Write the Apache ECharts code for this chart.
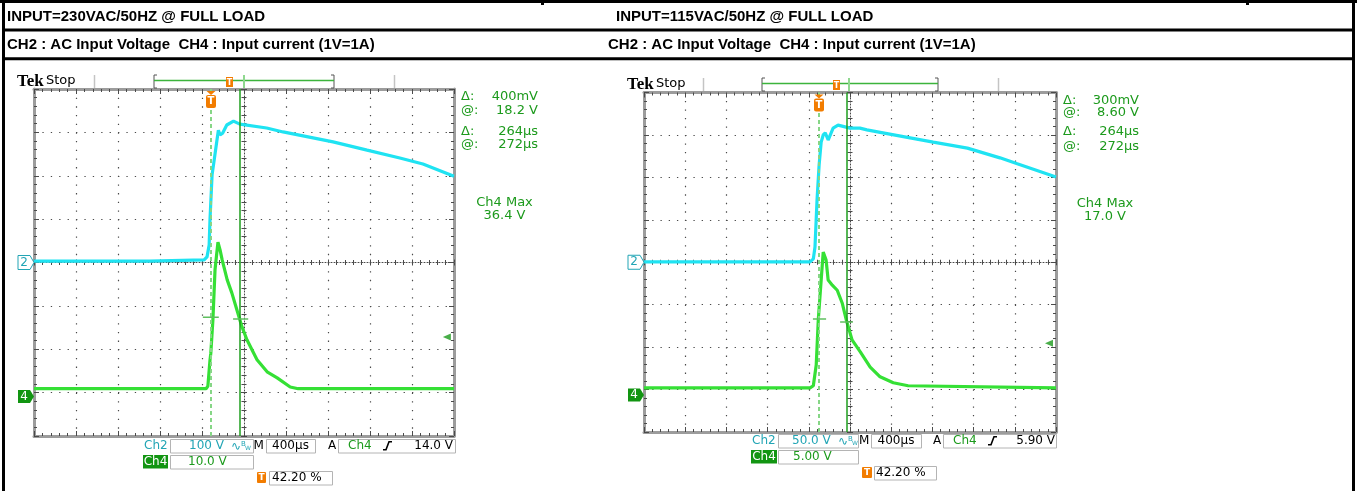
<!DOCTYPE html>
<html><head><meta charset="utf-8">
<script src="https://cdn.jsdelivr.net/npm/echarts@6/dist/echarts.min.js"></script>
<style>html,body{margin:0;padding:0;background:#fff;overflow:hidden}#c{width:1357px;height:491px}</style>
</head><body><div id="c"></div>
<script>
// ---- data (x in divisions from screen centre, y in divisions from centre) ----
const titleRow1 = ['INPUT=230VAC/50HZ @ FULL LOAD', 'INPUT=115VAC/50HZ @ FULL LOAD'];
const titleRow2 = ['CH2 : AC Input Voltage  CH4 : Input current (1V=1A)', 'CH2 : AC Input Voltage  CH4 : Input current (1V=1A)'];

const leftCh2 = [[-5,0.03],[-2.24,0.03],[-0.95,0.06],[-0.88,0.13],[-0.83,0.4],[-0.81,0.98],[-0.76,2.02],[-0.71,2.36],[-0.65,2.78],[-0.61,3.05],[-0.57,2.94],[-0.51,2.98],[-0.41,3.17],[-0.25,3.26],[-0.10,3.19],[0.54,3.1],[0.93,3.01],[2.12,2.78],[2.93,2.59],[3.71,2.41],[4.26,2.27],[5,1.99]];
const leftCh4 = [[-5,-2.91],[-0.9,-2.91],[-0.86,-2.85],[-0.81,-2.25],[-0.79,-2.09],[-0.74,-1.32],[-0.69,-0.17],[-0.64,0.29],[-0.62,0.47],[-0.57,0.29],[-0.52,0.06],[-0.4,-0.4],[-0.29,-0.7],[-0.17,-1.09],[-0.05,-1.48],[0.07,-1.78],[0.31,-2.24],[0.55,-2.52],[0.79,-2.66],[1.1,-2.87],[1.29,-2.91],[5,-2.91]];
const rightCh2 = [[-5,0.01],[-0.97,0.01],[-0.89,0.08],[-0.85,0.36],[-0.8,1.47],[-0.75,2.29],[-0.7,2.83],[-0.65,3.0],[-0.6,3.05],[-0.53,2.88],[-0.41,3.16],[-0.29,3.23],[0.0,3.16],[0.24,3.16],[0.41,3.12],[0.8,3.05],[2.02,2.83],[2.85,2.69],[3.64,2.46],[4.06,2.32],[5,2.01]];
const rightCh4 = [[-5,-2.96],[-0.97,-2.96],[-0.89,-2.91],[-0.82,-2.42],[-0.77,-1.36],[-0.7,-0.42],[-0.65,0.24],[-0.58,0.05],[-0.53,-0.42],[-0.43,-0.54],[-0.31,-0.66],[-0.19,-0.96],[-0.09,-1.36],[0.05,-1.83],[0.25,-2.11],[0.49,-2.47],[0.73,-2.7],[1.05,-2.84],[1.41,-2.91],[5,-2.96]];

const leftCursors = [-0.79, -0.10];      // vertical cursors (dashed, solid)
const rightCursors = [-0.75, -0.09];
const leftHBars = [[-0.98,-0.6,-1.26],[-0.26,0.1,-1.30]];   // [x1,x2,y]
const rightHBars = [[-0.9,-0.58,-1.34],[-0.24,0.07,-1.41]];
const leftTrigger = [-0.78, 4.83, -1.72];   // [trigger x, arrow x, trigger level y]
const rightTrigger = [-0.76, 4.83, -1.91];
const leftGround = [0, -3.09];   // ch2, ch4 marker levels
const rightGround = [0, -3.13];

const leftReadouts = ['400mV','18.2 V','264µs','272µs','36.4 V'];
const rightReadouts = ['300mV','8.60 V','264µs','272µs','17.0 V'];
const leftScale = ['100 V','10.0 V','400µs','14.0 V','42.20 %'];
const rightScale = ['50.0 V','5.00 V','400µs','5.90 V','42.20 %'];

// ---- styling ----
const CYAN = '#1fe3f2', GREEN = '#35e035', GRN = '#1c9a1c', TEAL = '#22a5b5', ORANGE = '#f27c00';
const DOT = '#4a4a4a', BORDER = '#9c9c9c';
const grids = [{left:34, top:89, width:420, height:347}, {left:644, top:92.5, width:412, height:339.5}];

function gridAxes(g) {
  const h = grids[g].height, w = grids[g].width;
  const vDash = [1.3, h/40 - 1.3], hDash = [1.3, w/50 - 1.3];
  const common = {type:'value', gridIndex:g, axisLabel:{show:false}, splitLine:{show:false}, silent:true};
  const xr = {min:-5, max:5, interval:1}, yr = {min:-4, max:4, interval:1};
  const tick = (inside, len) => ({show:true, inside:inside, length:len, lineStyle:{color:DOT, width:1}});
  const minor = (len) => ({show:true, splitNumber:5, length:len, lineStyle:{color:DOT, width:1}});
  const border = {show:true, onZero:false, lineStyle:{color:BORDER, width:3}};
  const x = [
    Object.assign({}, common, xr, {position:'bottom', axisLine:border, axisTick:tick(true,5), minorTick:minor(3), splitLine:{show:true, lineStyle:{color:DOT, width:1.2, type:vDash}}}),
    Object.assign({}, common, xr, {position:'top', axisLine:border, axisTick:tick(true,5), minorTick:minor(3)}),
    Object.assign({}, common, xr, {position:'bottom', axisLine:{show:true, onZero:true, lineStyle:{color:DOT, width:1, type:[1,2]}}, axisTick:tick(true,3), minorTick:minor(2.5)}),
    Object.assign({}, common, xr, {position:'bottom', axisLine:{show:false, onZero:true}, axisTick:tick(false,3), minorTick:minor(2.5)})
  ];
  const y = [
    Object.assign({}, common, yr, {position:'left', axisLine:border, axisTick:tick(true,5), minorTick:minor(3), splitLine:{show:true, lineStyle:{color:DOT, width:1.2, type:hDash}}}),
    Object.assign({}, common, yr, {position:'right', axisLine:border, axisTick:tick(true,5), minorTick:minor(3)}),
    Object.assign({}, common, yr, {position:'left', axisLine:{show:true, onZero:true, lineStyle:{color:DOT, width:1, type:[1,2]}}, axisTick:tick(true,3), minorTick:minor(2.5)}),
    Object.assign({}, common, yr, {position:'left', axisLine:{show:false, onZero:true}, axisTick:tick(false,3), minorTick:minor(2.5)})
  ];
  return {x, y};
}

function scopeSeries(g, ch2, ch4, cur, hbars, trig) {
  const ax = {xAxisIndex:g*4, yAxisIndex:g*4};
  const s = [];
  s.push(Object.assign({type:'line', name:'CH2 '+g, data:ch2, symbol:'none', lineStyle:{color:CYAN, width:3.2}, z:3, silent:true}, ax));
  s.push(Object.assign({type:'line', name:'CH4 '+g, data:ch4, symbol:'none', lineStyle:{color:GREEN, width:3.2}, z:4, silent:true,
    markLine:{silent:true, symbol:'none', label:{show:false}, animation:false,
      data:[{xAxis:cur[0], lineStyle:{color:'#86d686', type:[4,3], width:2}},
            {xAxis:cur[1], lineStyle:{color:'#1e9e1e', type:'solid', width:1.5}}]}}, ax));
  hbars.forEach(b => s.push(Object.assign({type:'line', data:[[b[0],b[2]],[b[1],b[2]]], symbol:'none', lineStyle:{color:'#5fbf5f', width:1.5}, z:5, silent:true}, ax)));
  s.push(Object.assign({type:'scatter', data:[[trig[1], trig[2]]], symbol:'triangle', symbolRotate:90, symbolSize:[7,8], itemStyle:{color:GRN}, z:6, silent:true}, ax));
  return s;
}

const a0 = gridAxes(0), a1 = gridAxes(1);
const chart = echarts.init(document.getElementById('c'), null, {renderer:'canvas'});
chart.setOption({
  animation:false,
  backgroundColor:'#ffffff',
  grid: grids.map(g => Object.assign({show:false, outerBoundsMode:'none', containLabel:false}, g)),
  xAxis: a0.x.concat(a1.x),
  yAxis: a0.y.concat(a1.y),
  series: scopeSeries(0, leftCh2, leftCh4, leftCursors, leftHBars, leftTrigger)
    .concat(scopeSeries(1, rightCh2, rightCh4, rightCursors, rightHBars, rightTrigger))
});

// ---- decorations ----
const px = (g, x, y) => chart.convertToPixel({xAxisIndex:g*4, yAxisIndex:g*4}, [x, y]);
const E = [];
const rect = (x,y,w,h,fill,stroke,lw,r) => E.push({type:'rect', z:50, shape:{x,y,width:w,height:h,r:r||0}, style:{fill:fill||null, stroke:stroke||null, lineWidth:lw||1}});
const text = (x,y,t,font,fill,align) => E.push({type:'text', z:51, x, y, style:{text:t, font, fill, align:align||'left', verticalAlign:'middle'}});
const pline = (pts,stroke,lw,dash) => E.push({type:'polyline', z:50, shape:{points:pts}, style:{stroke, lineWidth:lw||1, fill:null, lineDash:dash||null}});
const pgon = (pts,fill,stroke) => E.push({type:'polygon', z:50, shape:{points:pts}, style:{fill, stroke:stroke||null, lineWidth:1}});

// header table
rect(0,0,1357,3,'#000');
rect(2,28.5,1353,3,'#000');
rect(2,57.3,1353,3,'#000');
rect(2,0,3,491,'#000');
rect(1352,0,3,491,'#000');
rect(541,0,3,5,'#000');
rect(1246,0,3,5,'#000');
const HF = 'bold 15px "Liberation Sans", Arial, sans-serif';
text(7,16.5,titleRow1[0],HF,'#000');
text(616,16.5,titleRow1[1],HF,'#000');
text(7,44.5,titleRow2[0],HF,'#000');
text(608,44.5,titleRow2[1],HF,'#000');

const F = '12px "DejaVu Sans", sans-serif';
const FR = '13px "DejaVu Sans", sans-serif';
const P = [
  {tek:[17,82], stop:[46,81], bar:{y0:75,y1:88, gray:[94,394], br:[154,334], t:229, cur:244},
   read:{dx:461, vx:538, ys:[97,111,132,145], maxX:504.5, maxY:[203,216]},
   bot:{r:[439,455,471], ch2x:144, b1:[170,83], val1x:189, bwx:231, mx:253.5, b2:[266,49], ax:328, b3:[338,117], ch4x:348, edgex:383, trigRight:453, ch4box:[143,25], val2x:188, tIcon:[257,9], b5:[269,63], pctx:272}},
  {tek:[627,85], stop:[656,84], bar:{y0:78,y1:91, gray:[703,998], br:[762,938], t:836, cur:849},
   read:{dx:1063, vx:1139, ys:[101,113,132,147], maxX:1105, maxY:[204,217]},
   bot:{r:[434,450,466], ch2x:752, b1:[778,80], val1x:792, bwx:838, mx:859, b2:[871,50], ax:933, b3:[943,113], ch4x:953, edgex:988, trigRight:1055, ch4box:[751,26], val2x:793, tIcon:[862,10], b5:[874,62], pctx:876}}
];
const RD = [leftReadouts, rightReadouts], SC = [leftScale, rightScale];
const TRG = [leftTrigger, rightTrigger], GND = [leftGround, rightGround];

P.forEach((p, g) => {
  // Tek Stop
  text(p.tek[0], p.tek[1], 'Tek', 'bold 17px "Liberation Serif", serif', '#000');
  text(p.stop[0], p.stop[1], 'Stop', '13px "DejaVu Sans", sans-serif', '#000');
  // record bar
  const b = p.bar;
  b.gray.forEach(x => pline([[x+0.5,b.y0],[x+0.5,b.y1]], '#c4c4c4', 1.5));
  pline([[b.br[0]+3,b.y0],[b.br[0],b.y0],[b.br[0],b.y1],[b.br[0]+3,b.y1]], '#555', 1);
  pline([[b.br[1]-3,b.y0],[b.br[1],b.y0],[b.br[1],b.y1],[b.br[1]-3,b.y1]], '#555', 1);
  pline([[b.br[0],(b.y0+b.y1)/2-1],[b.br[1],(b.y0+b.y1)/2-1]], '#3cb43c', 1.3);
  pline([[b.cur,b.y0],[b.cur,b.y1]], '#8fd88f', 2);
  rect(b.t-3, b.y0+2, 7, 10, ORANGE);
  text(b.t+0.5, b.y0+7.5, 'T', 'bold 8px "DejaVu Sans", sans-serif', '#fff', 'center');
  // readouts
  const r = p.read, v = RD[g];
  ['Δ:','@:','Δ:','@:'].forEach((l,i) => { text(r.dx, r.ys[i], l, FR, GRN); text(r.vx, r.ys[i], v[i], FR, GRN, 'right'); });
  text(r.maxX, r.maxY[0], 'Ch4 Max', FR, GRN, 'center');
  text(r.maxX, r.maxY[1], v[4], FR, GRN, 'center');
  // trigger marker at top of graticule
  const tp = px(g, TRG[g][0], 4);
  const tx = Math.round(tp[0]);
  pgon([[tx-4.5,tp[1]+2],[tx+4.5,tp[1]+2],[tx,tp[1]+6]], ORANGE);
  rect(tx-5, tp[1]+6, 10, 13, ORANGE, null, 1, 2);
  text(tx, tp[1]+12.5, 'T', 'bold 10px "DejaVu Sans", sans-serif', '#fff', 'center');
  // channel markers
  const c2 = px(g, -5, GND[g][0]), c4 = px(g, -5, GND[g][1]);
  const l0 = c2[0];
  pgon([[l0-16,c2[1]-7],[l0-4,c2[1]-7],[l0,c2[1]],[l0-4,c2[1]+7],[l0-16,c2[1]+7]], '#fff', TEAL);
  text(l0-10, c2[1], '2', '12px "DejaVu Sans", sans-serif', TEAL, 'center');
  pgon([[l0-16,c4[1]-6.5],[l0-4,c4[1]-6.5],[l0,c4[1]],[l0-4,c4[1]+6.5],[l0-16,c4[1]+6.5]], '#129512');
  text(l0-10, c4[1], '4', '12px "DejaVu Sans", sans-serif', '#fff', 'center');
  // bottom scale boxes
  const o = p.bot, s = SC[g];
  const rh = 13.5;
  const BC = '#b4b4b4';
  const ym = o.r.map(y => y + rh/2);
  text(o.ch2x, ym[0], 'Ch2', F, TEAL);
  rect(o.b1[0]+0.5, o.r[0]+0.5, o.b1[1], rh, null, BC, 1);
  text(o.val1x, ym[0], s[0], F, TEAL);
  text(o.bwx, ym[0]+1, '∿', '12px "DejaVu Sans", sans-serif', TEAL);
  text(o.bwx+10, ym[0]-2, 'B', '7px "DejaVu Sans", sans-serif', TEAL);
  text(o.bwx+14, ym[0]+3, 'W', '6px "DejaVu Sans", sans-serif', TEAL);
  text(o.mx, ym[0], 'M', F, '#000');
  rect(o.b2[0]+0.5, o.r[0]+0.5, o.b2[1], rh, null, BC, 1);
  text(o.b2[0]+o.b2[1]/2, ym[0], s[2], F, '#000', 'center');
  text(o.ax, ym[0], 'A', F, '#000');
  rect(o.b3[0]+0.5, o.r[0]+0.5, o.b3[1], rh, null, BC, 1);
  text(o.ch4x, ym[0], 'Ch4', F, GRN);
  pline([[o.edgex,ym[0]+4],[o.edgex+3,ym[0]+4],[o.edgex+6,ym[0]-4],[o.edgex+9,ym[0]-4]], '#000', 1.6);
  text(o.trigRight, ym[0], s[3], F, '#000', 'right');
  rect(o.ch4box[0], o.r[1], o.ch4box[1], rh, '#129512');
  text(o.ch4box[0]+o.ch4box[1]/2, ym[1], 'Ch4', F, '#fff', 'center');
  rect(o.b1[0]+0.5, o.r[1]+0.5, o.b1[1], rh, null, BC, 1);
  text(o.val2x, ym[1], s[1], F, GRN);
  rect(o.tIcon[0], o.r[2]+1, o.tIcon[1], 11, ORANGE, null, 1, 1);
  text(o.tIcon[0]+o.tIcon[1]/2, o.r[2]+6.5, 'T', 'bold 9px "DejaVu Sans", sans-serif', '#fff', 'center');
  rect(o.b5[0]+0.5, o.r[2]+0.5, o.b5[1], rh, null, BC, 1);
  text(o.pctx, ym[2], s[4], F, '#000');
});

chart.setOption({graphic:{elements:E}});
</script>
</body></html>
